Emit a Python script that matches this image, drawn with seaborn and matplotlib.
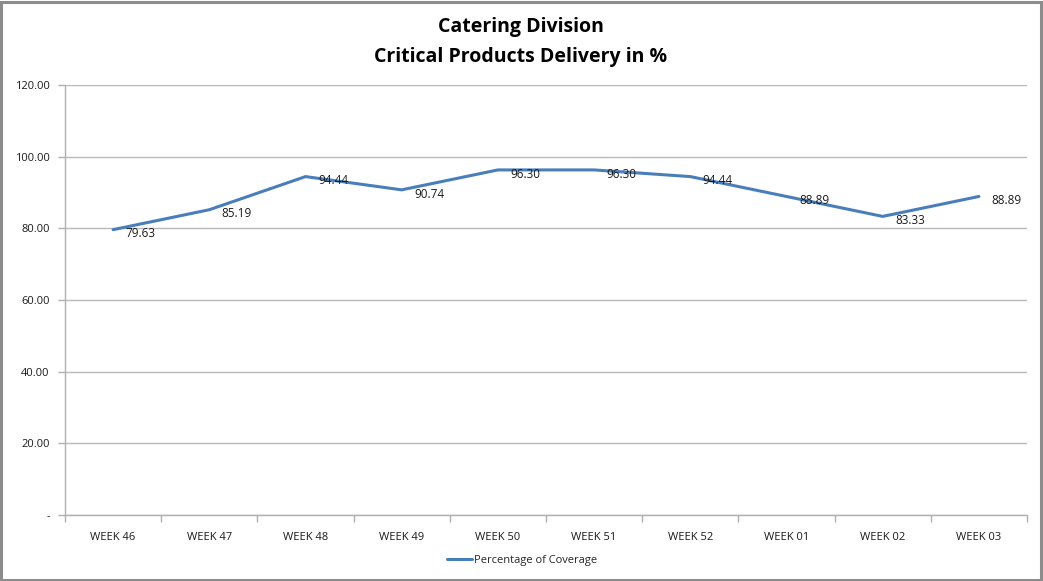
import matplotlib
matplotlib.use("Agg")
import matplotlib.pyplot as plt
import seaborn as sns
import pandas as pd
import numpy as np
from matplotlib.patches import Rectangle
from matplotlib.ticker import FixedLocator, FuncFormatter

weeks = ["WEEK 46", "WEEK 47", "WEEK 48", "WEEK 49", "WEEK 50",
         "WEEK 51", "WEEK 52", "WEEK 01", "WEEK 02", "WEEK 03"]
coverage = [79.63, 85.19, 94.44, 90.74, 96.30, 96.30, 94.44, 88.89, 83.33, 88.89]
yticks = [0, 20, 40, 60, 80, 100, 120]
series_name = "Percentage of Coverage"

df = pd.DataFrame({"Week": weeks, series_name: coverage})
df["pos"] = np.arange(len(weeks))

sns.set_theme(style="white")
plt.rcParams['font.family'] = ['Open Sans', 'DejaVu Sans']

fig = plt.figure(figsize=(10.43, 5.81), dpi=100)
ax = fig.add_axes([65/1043, 1-515/581, (1027-65)/1043, (515-85)/581])

line_color = "#4a7ebb"
sns.lineplot(data=df, x="pos", y=series_name, ax=ax, color=line_color,
             linewidth=2.2, label=series_name, legend=False)

for x, v in zip(df["pos"], coverage):
    ax.annotate(f"{v:.2f}", (x, v), xytext=(9, -3), textcoords="offset points",
                ha="left", va="center", fontsize=8.5, color="#1a1a1a")

ax.set_xlim(-0.5, len(weeks) - 0.5)
ax.set_ylim(0, 120)
ax.set_yticks(yticks)
ax.yaxis.set_major_formatter(FuncFormatter(lambda v, p: "-" if v == 0 else f"{v:.2f}"))
ax.set_xticks(df["pos"])
ax.set_xticklabels(weeks)
ax.xaxis.set_minor_locator(FixedLocator(np.arange(-0.5, len(weeks), 1.0)))
ax.tick_params(axis="x", which="major", length=0, pad=12, labelsize=8, colors="#1a1a1a")
ax.tick_params(axis="x", which="minor", length=5, width=1, color="#b0b0b0", direction="out", bottom=True)
ax.tick_params(axis="y", which="major", length=5, width=1, color="#b0b0b0", direction="out",
               left=True, labelsize=8, labelcolor="#1a1a1a", pad=6)
ax.grid(axis="y", color="#b8b8b8", linewidth=1)
ax.grid(axis="x", visible=False)
for s in ["top", "right"]:
    ax.spines[s].set_visible(False)
for s in ["left", "bottom"]:
    ax.spines[s].set_color("#b0b0b0")
    ax.spines[s].set_linewidth(1)
ax.set_xlabel("")
ax.set_ylabel("")

fig.text(521/1043, 1-27/581, "Catering Division", ha="center", va="center",
         fontsize=14, fontweight="bold", color="#000000")
fig.text(521/1043, 1-57/581, "Critical Products Delivery in %", ha="center", va="center",
         fontsize=14, fontweight="bold", color="#000000")

handles, labels = ax.get_legend_handles_labels()
fig.legend(handles, labels, loc="center", bbox_to_anchor=(522/1043, 1-560/581),
           frameon=False, fontsize=8, handlelength=2.2, handletextpad=0.2)

fig.patches.append(Rectangle((0.001, 0.002), 0.997, 0.995, transform=fig.transFigure,
                             fill=False, edgecolor="#8c8c8c", linewidth=2.2))

fig.savefig("out.png", dpi=100)
